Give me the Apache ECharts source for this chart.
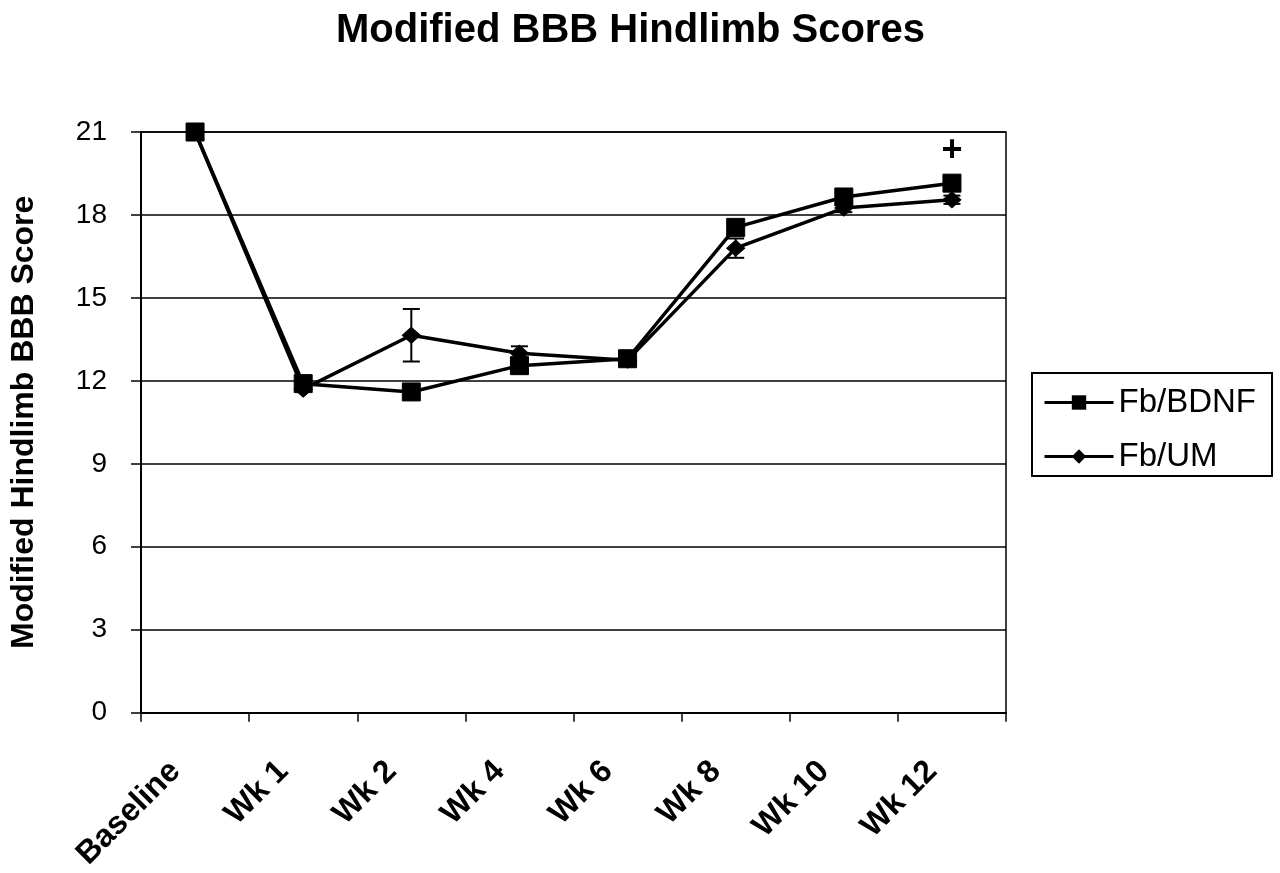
<!DOCTYPE html>
<html>
<head>
<meta charset="utf-8">
<script src="https://cdn.jsdelivr.net/npm/echarts@6/dist/echarts.min.js"></script>
<style>html,body{margin:0;padding:0;background:#fff;}#c{width:1280px;height:873px;}</style>
</head>
<body>
<div id="c"></div>
<script>
const categories = ['Baseline', 'Wk 1', 'Wk 2', 'Wk 4', 'Wk 6', 'Wk 8', 'Wk 10', 'Wk 12'];
const bdnfValues = [21, 11.9, 11.6, 12.55, 12.8, 17.55, 18.65, 19.15];
const umValues   = [21, 11.7, 13.65, 13.0, 12.75, 16.8, 18.25, 18.55];
const bdnfErr    = [0, 0, 0, 0, 0, 0, 0.15, 0.2];
const umErr      = [0, 0, 0.95, 0.25, 0, 0.35, 0.15, 0.15];
const sigMarks   = [null, null, null, null, null, null, null, 20.3];
const yTicks = { min: 0, max: 21, interval: 3 };

const FONT = 'Liberation Sans, Arial, sans-serif';

function errData(vals, errs) {
  const out = [];
  vals.forEach((v, i) => { if (errs[i] > 0) out.push([i, v - errs[i], v + errs[i]]); });
  return out;
}

function renderErr(params, api) {
  const i = api.value(0);
  const lo = api.coord([i, api.value(1)]);
  const hi = api.coord([i, api.value(2)]);
  const w = 8.5;
  const style = { stroke: '#000', lineWidth: 2, fill: 'none' };
  return {
    type: 'group',
    children: [
      { type: 'line', shape: { x1: lo[0], y1: lo[1], x2: hi[0], y2: hi[1] }, style },
      { type: 'line', shape: { x1: lo[0] - w, y1: lo[1], x2: lo[0] + w, y2: lo[1] }, style },
      { type: 'line', shape: { x1: hi[0] - w, y1: hi[1], x2: hi[0] + w, y2: hi[1] }, style }
    ]
  };
}

const chart = echarts.init(document.getElementById('c'), null, { renderer: 'canvas' });
chart.setOption({
  backgroundColor: '#fff',
  animation: false,
  title: {
    text: 'Modified BBB Hindlimb Scores',
    left: 336,
    top: 11,
    padding: 0,
    textStyle: { fontFamily: FONT, fontSize: 40, fontWeight: 'bold', color: '#000' }
  },
  legend: {
    orient: 'vertical',
    left: 1032,
    top: 373,
    padding: [13, 16, 3, 11],
    itemGap: 21,
    itemWidth: 69,
    itemHeight: 18,
    borderColor: '#000',
    borderWidth: 2,
    data: ['Fb/BDNF', 'Fb/UM'],
    lineStyle: { width: 3 },
    textStyle: { fontFamily: FONT, fontSize: 33, color: '#000', lineHeight: 31 }
  },
  grid: {
    left: 136, right: 274, top: 132, bottom: 158,
    show: true, borderColor: '#000', borderWidth: 1.5, backgroundColor: '#fff'
  },
  xAxis: {
    type: 'category',
    data: categories,
    boundaryGap: true,
    axisLine: { lineStyle: { color: '#000', width: 2 } },
    axisTick: { show: true, length: 9, lineStyle: { color: '#000', width: 1.5 } },
    axisLabel: {
      rotate: 45, margin: 34, interval: 0, padding: [0, 28, 0, 0],
      fontFamily: FONT, fontSize: 32, fontWeight: 'bold', color: '#000'
    },
    splitLine: { show: false }
  },
  yAxis: {
    type: 'value',
    min: yTicks.min, max: yTicks.max, interval: yTicks.interval,
    name: 'Modified Hindlimb BBB Score',
    nameLocation: 'middle',
    nameGap: 101,
    nameTextStyle: { fontFamily: FONT, fontSize: 32, fontWeight: 'bold', color: '#000' },
    axisLine: { show: true, lineStyle: { color: '#000', width: 2 } },
    axisTick: { show: true, length: 10, lineStyle: { color: '#000', width: 1.5 } },
    axisLabel: { margin: 34, fontFamily: FONT, fontSize: 28, color: '#000' },
    splitLine: { show: true, lineStyle: { color: '#000', width: 1.5 } }
  },
  series: [
    {
      name: 'Fb/BDNF', type: 'line', data: bdnfValues, z: 5,
      symbol: 'rect', symbolSize: 18,
      lineStyle: { color: '#000', width: 3.5 },
      itemStyle: { color: '#000', borderColor: '#000' }
    },
    {
      name: 'Fb/UM', type: 'line', data: umValues, z: 3,
      symbol: 'diamond', symbolSize: [18, 16],
      lineStyle: { color: '#000', width: 3.5 },
      itemStyle: { color: '#000', borderColor: '#000' }
    },
    {
      name: 'errUM', type: 'custom', data: errData(umValues, umErr), z: 2,
      renderItem: renderErr
    },
    {
      name: 'errBDNF', type: 'custom', data: errData(bdnfValues, bdnfErr), z: 4,
      renderItem: renderErr
    },
    {
      name: 'sig', type: 'scatter', data: sigMarks, symbol: 'circle', symbolSize: 2, z: 6,
      itemStyle: { color: 'rgba(255,255,255,0)' },
      label: {
        show: true, position: 'inside', formatter: '+',
        fontFamily: FONT, fontSize: 36, fontWeight: 'bold', color: '#000',
        textBorderWidth: 0, opacity: 1
      }
    }
  ]
});
</script>
</body>
</html>
